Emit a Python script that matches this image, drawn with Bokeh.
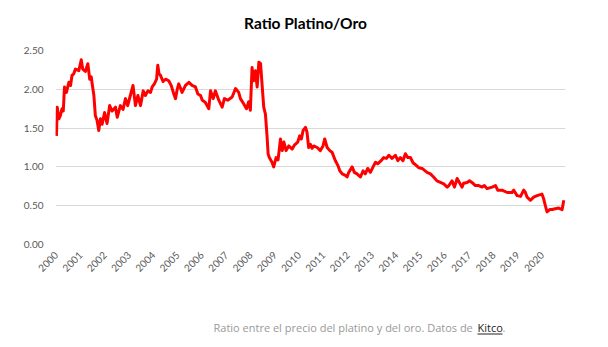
import math
from bokeh.plotting import figure
from bokeh.layouts import column
from bokeh.models import Range1d, FixedTicker, ColumnDataSource
from bokeh.core.properties import value
from bokeh.embed import file_html
from bokeh.resources import INLINE

# ---- data (decimal year, platinum/gold ratio) ----
t = [2000.00, 2000.03, 2000.10, 2000.16, 2000.23, 2000.28, 2000.33, 2000.41, 2000.51, 2000.58,
     2000.64, 2000.71, 2000.78, 2000.92, 2001.02, 2001.08, 2001.19, 2001.29, 2001.37, 2001.43,
     2001.48, 2001.54, 2001.60, 2001.67, 2001.74, 2001.81, 2001.88, 2001.98, 2002.08, 2002.19,
     2002.29, 2002.43, 2002.50, 2002.63, 2002.74, 2002.84, 2002.93, 2003.04, 2003.15, 2003.25,
     2003.35, 2003.46, 2003.57, 2003.66, 2003.76, 2003.87, 2003.94, 2004.03, 2004.12, 2004.17,
     2004.22, 2004.28, 2004.39, 2004.49, 2004.62, 2004.72, 2004.83, 2004.90, 2004.97, 2005.03,
     2005.10, 2005.17, 2005.31, 2005.45, 2005.58, 2005.72, 2005.82, 2005.93, 2006.00, 2006.13,
     2006.27, 2006.34, 2006.45, 2006.54, 2006.68, 2006.82, 2006.91, 2007.05, 2007.23, 2007.37,
     2007.50, 2007.57, 2007.71, 2007.82, 2007.91, 2007.98, 2008.05, 2008.12, 2008.19, 2008.26,
     2008.33, 2008.40, 2008.46, 2008.53, 2008.60, 2008.67, 2008.71, 2008.76, 2008.87, 2008.94,
     2009.04, 2009.12, 2009.22, 2009.29, 2009.36, 2009.45, 2009.56, 2009.70, 2009.79, 2009.93,
     2010.01, 2010.08, 2010.15, 2010.25, 2010.31, 2010.38, 2010.45, 2010.52, 2010.59, 2010.73,
     2010.86, 2010.97, 2011.04, 2011.14, 2011.25, 2011.34, 2011.48, 2011.58, 2011.66, 2011.76,
     2011.89, 2011.96, 2012.03, 2012.17, 2012.26, 2012.37, 2012.51, 2012.62, 2012.71, 2012.81,
     2012.92, 2013.03, 2013.13, 2013.22, 2013.36, 2013.47, 2013.58, 2013.68, 2013.81, 2013.95,
     2014.05, 2014.15, 2014.26, 2014.36, 2014.46, 2014.57, 2014.68, 2014.77, 2014.91, 2015.05,
     2015.25, 2015.39, 2015.52, 2015.66, 2015.80, 2015.94, 2016.08, 2016.15, 2016.28, 2016.38,
     2016.49, 2016.60, 2016.69, 2016.76, 2016.90, 2017.00, 2017.10, 2017.24, 2017.38, 2017.52,
     2017.61, 2017.72, 2017.93, 2018.07, 2018.16, 2018.34, 2018.55, 2018.75, 2018.82, 2018.96,
     2019.10, 2019.23, 2019.30, 2019.37, 2019.51, 2019.64, 2019.78, 2019.98, 2020.05, 2020.12,
     2020.19, 2020.30, 2020.40, 2020.53, 2020.67, 2020.81, 2020.88]

ratio = [1.40, 1.77, 1.62, 1.66, 1.75, 1.72, 2.03, 1.96, 2.09, 2.05,
         2.18, 2.20, 2.26, 2.24, 2.38, 2.26, 2.23, 2.33, 2.13, 2.16,
         2.05, 1.92, 1.66, 1.60, 1.47, 1.62, 1.55, 1.70, 1.56, 1.79,
         1.72, 1.77, 1.64, 1.79, 1.74, 1.88, 1.79, 1.92, 2.05, 1.79,
         1.92, 1.79, 1.98, 1.92, 1.98, 1.96, 2.03, 2.07, 2.13, 2.31,
         2.20, 2.18, 2.10, 2.13, 2.11, 2.05, 1.94, 1.88, 2.00, 2.07,
         2.02, 1.96, 2.05, 2.09, 2.05, 2.03, 1.94, 1.92, 1.86, 1.83,
         1.75, 1.98, 1.88, 1.98, 1.86, 1.77, 1.88, 1.86, 1.90, 2.01,
         1.96, 1.88, 1.81, 1.75, 1.84, 1.73, 2.28, 2.11, 2.24, 2.03,
         2.35, 2.33, 2.07, 1.77, 1.68, 1.38, 1.17, 1.12, 1.06, 1.00,
         1.12, 1.09, 1.36, 1.21, 1.32, 1.21, 1.27, 1.23, 1.28, 1.32,
         1.40, 1.36, 1.47, 1.51, 1.45, 1.25, 1.29, 1.24, 1.27, 1.25,
         1.21, 1.27, 1.36, 1.25, 1.21, 1.19, 1.08, 1.02, 0.95, 0.91,
         0.89, 0.87, 0.93, 1.00, 0.93, 0.91, 0.87, 0.95, 0.91, 0.98,
         0.93, 1.00, 1.06, 1.04, 1.08, 1.12, 1.11, 1.15, 1.11, 1.15,
         1.08, 1.12, 1.08, 1.17, 1.12, 1.12, 1.05, 1.03, 0.99, 0.98,
         0.93, 0.91, 0.87, 0.82, 0.80, 0.78, 0.74, 0.76, 0.82, 0.74,
         0.85, 0.79, 0.74, 0.79, 0.80, 0.82, 0.80, 0.76, 0.76, 0.74,
         0.76, 0.72, 0.74, 0.76, 0.70, 0.70, 0.67, 0.67, 0.70, 0.63,
         0.62, 0.70, 0.67, 0.61, 0.57, 0.61, 0.63, 0.65, 0.59, 0.50,
         0.42, 0.45, 0.45, 0.46, 0.47, 0.45, 0.57]

years = list(range(2000, 2021))
year_labels = [str(y) for y in years]
y_ticks = [0.0, 0.5, 1.0, 1.5, 2.0, 2.5]
y_labels = ["0.00", "0.50", "1.00", "1.50", "2.00", "2.50"]

title_text = "Ratio Platino/Oro"
caption_text = "Ratio entre el precio del platino y del oro. Datos de "
caption_link = "Kitco"

W = 608
FL, FR = 55, 565          # frame left / right in page px
H0 = 36                   # title strip height
H2 = 57                   # caption strip height
H1 = 347 - H0 - H2        # main figure height
FT, FB = 50 - H0, 244 - H0  # frame top / bottom inside main figure


def strip(height):
    f = figure(width=W, height=height, output_backend="svg", toolbar_location=None,
               x_range=Range1d(FL, FR), y_range=Range1d(height, 0),
               min_border_left=FL, min_border_right=W - FR,
               min_border_top=0, min_border_bottom=0)
    f.axis.visible = False
    f.grid.visible = False
    f.outline_line_color = None
    f.border_fill_color = "white"
    f.background_fill_color = "white"
    return f


# ---- title strip ----
top = strip(H0)
top.text(x=[305], y=[22], text=[title_text], text_font=value("Lato"),
         text_font_style="bold", text_font_size="15.5px", text_color="#000000",
         text_align="center", text_baseline="middle")

# ---- main figure ----
p = figure(width=W, height=H1, output_backend="svg", toolbar_location=None,
           x_range=Range1d(1999.96, 2020.95), y_range=Range1d(0, 2.5),
           min_border_left=FL, min_border_right=W - FR,
           min_border_top=FT, min_border_bottom=H1 - FB)
p.outline_line_color = None
p.background_fill_color = "white"
p.border_fill_color = "white"

src = ColumnDataSource(dict(t=t, ratio=ratio))
p.line("t", "ratio", source=src, line_color="#FF0000", line_width=3, line_join="round")

p.xaxis.ticker = FixedTicker(ticks=years)
p.xaxis.major_label_overrides = {y: s for y, s in zip(years, year_labels)}
p.xaxis.major_label_orientation = math.pi / 4
p.yaxis.ticker = FixedTicker(ticks=y_ticks)
p.yaxis.major_label_overrides = {v: s for v, s in zip(y_ticks, y_labels)}
for ax in (p.xaxis, p.yaxis):
    ax.axis_line_color = None
    ax.major_tick_line_color = None
    ax.minor_tick_line_color = None
    ax.major_label_text_font = "Lato"
    ax.major_label_text_font_size = "10px"
    ax.major_label_text_color = "#595959"
p.yaxis.major_label_standoff = 6
p.xaxis.major_label_standoff = 3

p.xgrid.grid_line_color = None
p.ygrid.ticker = FixedTicker(ticks=y_ticks)
p.ygrid.grid_line_color = "#d9d9d9"
p.ygrid.grid_line_width = 1

# ---- caption strip ----
cap = strip(H2)
base = H0 + H1
cap_y = 327 - base
cap.text(x=[213], y=[cap_y], text=[caption_text], text_font=value("Open Sans"),
         text_font_size="11px", text_color="#999999", text_align="left", text_baseline="middle")
cap.text(x=[477], y=[cap_y], text=[caption_link], text_font=value("Open Sans"),
         text_font_size="11px", text_color="#222222", text_align="left", text_baseline="middle")
cap.text(x=[502], y=[cap_y], text=["."], text_font=value("Open Sans"),
         text_font_size="11px", text_color="#999999", text_align="left", text_baseline="middle")
cap.segment(x0=[477], y0=[333.5 - base], x1=[502], y1=[333.5 - base],
            line_color="#222222", line_width=1)

layout = column(top, p, cap, spacing=0)
open("out.html", "w").write(file_html(layout, INLINE))
